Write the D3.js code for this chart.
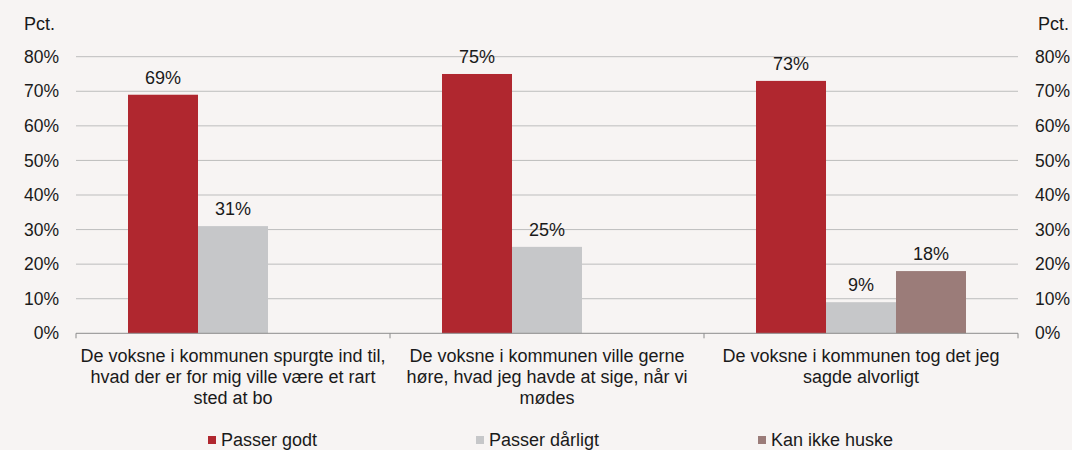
<!DOCTYPE html>
<html>
<head>
<meta charset="utf-8">
<script src="https://cdn.jsdelivr.net/npm/d3@7/dist/d3.min.js"></script>
<style>
  html, body { margin: 0; padding: 0; background: #f7f4f3; }
  svg { display: block; font-family: "Liberation Sans", Arial, sans-serif; }
</style>
</head>
<body>
<svg id="chart" width="1072" height="450"></svg>
<script>
const categories = [
  ["De voksne i kommunen spurgte ind til,", "hvad der er for mig ville være et rart", "sted at bo"],
  ["De voksne i kommunen ville gerne", "høre, hvad jeg havde at sige, når vi", "mødes"],
  ["De voksne i kommunen tog det jeg", "sagde alvorligt"]
];
const seriesNames = ["Passer godt", "Passer dårligt", "Kan ikke huske"];
const passerGodt = [69, 75, 73];
const passerDaarligt = [31, 25, 9];
const kanIkkeHuske = [null, null, 18];
const yTicks = [0, 10, 20, 30, 40, 50, 60, 70, 80];
const colors = ["#b0272f", "#c6c7c9", "#9b7c79"];

const seriesValues = [passerGodt, passerDaarligt, kanIkkeHuske];
const svg = d3.select("#chart");
const fontSize = 18;
const tickFont = 17.5;

const catIds = categories.map((c, i) => i);
const x = d3.scaleBand().domain(catIds).range([76, 1018]).paddingInner(0).paddingOuter(0);
const x1 = d3.scaleBand().domain(seriesNames).range([0, x.bandwidth()]).paddingInner(0).paddingOuter(0.743);
const y = d3.scaleLinear().domain([0, 80]).range([333.3, 56.7]);

// gridlines
svg.append("g").selectAll("line").data(yTicks.filter(t => t > 0)).join("line")
  .attr("x1", 76).attr("x2", 1018)
  .attr("y1", d => y(d)).attr("y2", d => y(d))
  .attr("stroke", "#bdbdbd").attr("stroke-width", 1);

// bars
const groups = svg.append("g").selectAll("g").data(catIds).join("g")
  .attr("transform", d => `translate(${x(d)},0)`);
groups.selectAll("rect")
  .data(ci => seriesNames.map((s, si) => ({ s, si, v: seriesValues[si][ci] })).filter(d => d.v != null))
  .join("rect")
  .attr("x", d => x1(d.s)).attr("width", x1.bandwidth())
  .attr("y", d => y(d.v)).attr("height", d => y(0) - y(d.v))
  .attr("fill", d => colors[d.si]);
groups.selectAll("text")
  .data(ci => seriesNames.map((s, si) => ({ s, si, v: seriesValues[si][ci] })).filter(d => d.v != null))
  .join("text")
  .attr("x", d => x1(d.s) + x1.bandwidth() / 2)
  .attr("y", d => y(d.v) - 11)
  .attr("text-anchor", "middle")
  .attr("font-size", fontSize).attr("fill", "#1a1a1a")
  .text(d => d.v + "%");

// x axis line and ticks
svg.append("line").attr("x1", 76).attr("x2", 1018).attr("y1", y(0)).attr("y2", y(0))
  .attr("stroke", "#8c8c8c").attr("stroke-width", 1);
const bounds = catIds.map(d => x(d)).concat([x.range()[1]]);
svg.append("g").selectAll("line").data(bounds).join("line")
  .attr("x1", d => d).attr("x2", d => d)
  .attr("y1", y(0)).attr("y2", y(0) + 5)
  .attr("stroke", "#8c8c8c");

// category labels
const catLabels = svg.append("g").selectAll("text").data(catIds).join("text")
  .attr("text-anchor", "middle").attr("font-size", fontSize).attr("fill", "#1a1a1a");
catLabels.each(function (ci) {
  const t = d3.select(this);
  categories[ci].forEach((line, li) => {
    t.append("tspan").attr("x", x(ci) + x.bandwidth() / 2).attr("y", 362 + li * 21).text(line);
  });
});

// y axis labels left and right
const yAxisL = d3.axisLeft(y).tickValues(yTicks).tickSize(0).tickPadding(0).tickFormat(d => d + "%");
const gL = svg.append("g").attr("transform", "translate(59,0)").call(yAxisL);
const yAxisR = d3.axisRight(y).tickValues(yTicks).tickSize(0).tickPadding(0).tickFormat(d => d + "%");
const gR = svg.append("g").attr("transform", "translate(1035,0)").call(yAxisR);
[gL, gR].forEach(g => {
  g.select(".domain").remove();
  g.selectAll("text").attr("font-size", tickFont).attr("fill", "#1a1a1a")
    .attr("font-family", "Liberation Sans, Arial, sans-serif");
});
svg.append("text").attr("x", 24).attr("y", 30).attr("font-size", fontSize).attr("fill", "#1a1a1a").text("Pct.");
svg.append("text").attr("x", 1038).attr("y", 30).attr("font-size", fontSize).attr("fill", "#1a1a1a").text("Pct.");

// legend
const legendX = [208, 476, 758];
const leg = svg.append("g").selectAll("g").data(seriesNames).join("g")
  .attr("transform", (d, i) => `translate(${legendX[i]},0)`);
leg.append("rect").attr("x", 0).attr("y", 436).attr("width", 8).attr("height", 8)
  .attr("fill", (d, i) => colors[i]);
leg.append("text").attr("x", 13).attr("y", 446).attr("font-size", fontSize).attr("fill", "#1a1a1a").text(d => d);
</script>
</body>
</html>
